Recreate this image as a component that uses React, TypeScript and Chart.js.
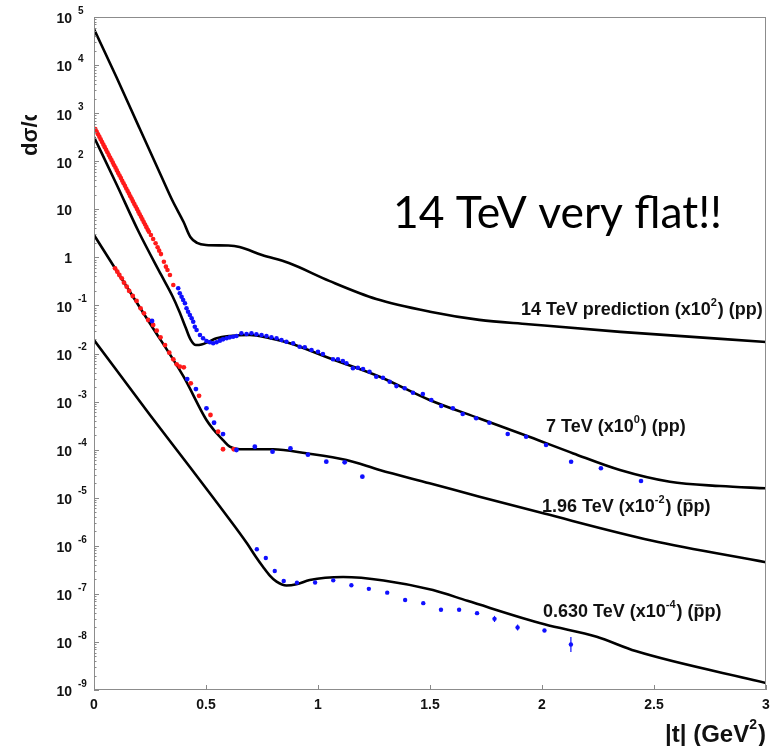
import { useEffect, useRef } from "react";
import { Chart, registerables } from "chart.js";

Chart.register(...registerables);

// ---- model curves: |t| (GeV^2) vs dσ/dt ----
const t14 = [0, 0.1, 0.2, 0.3, 0.35, 0.4, 0.43, 0.46, 0.5, 0.6, 0.65, 0.75, 0.87, 1.05, 1.26, 1.5, 1.72, 1.94, 2.35, 3.0];
const y14 = [5.6e4, 5.65e3, 525, 49.2, 15.2, 5.43, 2.65, 2.0, 1.81, 1.76, 1.64, 1.12, 0.76, 0.324, 0.136, 0.0741, 0.0501, 0.0407, 0.0282, 0.0174];

const t7 = [0, 0.1, 0.2, 0.3, 0.35, 0.38, 0.41, 0.43, 0.455, 0.48, 0.51, 0.547, 0.606, 0.696, 0.785, 0.874, 1.052, 1.275, 1.498, 1.721, 1.946, 2.14, 2.348, 2.571, 2.795, 3.0];
const y7 = [319, 33.6, 3.37, 0.43, 0.157, 0.0766, 0.0339, 0.02, 0.015, 0.0154, 0.0174, 0.0207, 0.0231, 0.0243, 0.0207, 0.0163, 0.00794, 0.00329, 0.00108, 4.45e-4, 1.83e-4, 8.35e-5, 3.77e-5, 2.15e-5, 1.75e-5, 1.57e-5];

const t196 = [0, 0.25, 0.4, 0.502, 0.535, 0.576, 0.606, 0.651, 0.8, 0.948, 1.127, 1.275, 1.498, 1.721, 2.01, 2.488, 3.0];
const y196 = [2.92, 0.0421, 0.00329, 4.13e-4, 2.56e-4, 1.58e-4, 1.15e-4, 1.02e-4, 1.02e-4, 8.39e-5, 6.08e-5, 3.77e-5, 2.0e-5, 1.05e-5, 4.67e-6, 1.29e-6, 4.55e-7];

const t630 = [0, 0.25, 0.428, 0.607, 0.682, 0.723, 0.755, 0.785, 0.815, 0.859, 0.904, 0.963, 1.112, 1.293, 1.513, 1.667, 2.011, 2.244, 2.418, 3.0];
const y630 = [0.0191, 5.25e-4, 4.36e-5, 3.44e-6, 1.14e-6, 5.85e-7, 3.62e-7, 2.4e-7, 1.79e-7, 1.49e-7, 1.58e-7, 1.94e-7, 2.24e-7, 1.9e-7, 1.2e-7, 7.16e-8, 2.32e-8, 1.28e-8, 6.44e-9, 1.4e-9];

// ---- measurements ----
// 7 TeV, small |t| (red)
const d7rT = [0.006, 0.012, 0.018, 0.024, 0.03, 0.036, 0.042, 0.048, 0.054, 0.06, 0.066, 0.072, 0.078, 0.084, 0.09, 0.096, 0.102, 0.108, 0.114, 0.12, 0.126, 0.132, 0.138, 0.144, 0.15, 0.156, 0.162, 0.168, 0.174, 0.18, 0.186, 0.192, 0.198, 0.204, 0.21, 0.216, 0.222, 0.228, 0.234, 0.24, 0.245, 0.254, 0.264, 0.275, 0.284, 0.291, 0.299, 0.312, 0.321, 0.328, 0.339, 0.354];
const d7rY = [465, 411, 363, 321, 284, 251, 221, 196, 173, 153, 135, 119, 105.5, 93.3, 82.4, 72.9, 64.4, 56.9, 50.3, 44.5, 39.3, 34.7, 30.7, 27.1, 24.0, 21.2, 18.7, 16.6, 14.6, 12.9, 11.4, 10.1, 8.93, 7.89, 6.97, 6.16, 5.44, 4.81, 4.25, 3.76, 3.41, 2.92, 2.41, 1.96, 1.62, 1.38, 1.17, 0.813, 0.64, 0.546, 0.43, 0.266];

// 7 TeV, larger |t| (blue)
const d7bT = [0.376, 0.383, 0.391, 0.398, 0.406, 0.413, 0.42, 0.428, 0.436, 0.443, 0.45, 0.458, 0.473, 0.487, 0.502, 0.517, 0.532, 0.547, 0.562, 0.576, 0.592, 0.606, 0.621, 0.636, 0.658, 0.681, 0.703, 0.725, 0.748, 0.77, 0.792, 0.815, 0.837, 0.859, 0.889, 0.918, 0.941, 0.971, 1.0, 1.022, 1.067, 1.089, 1.111, 1.127, 1.156, 1.178, 1.201, 1.23, 1.26, 1.29, 1.32, 1.35, 1.387, 1.424, 1.468, 1.506, 1.55, 1.602, 1.646, 1.706, 1.765, 1.847, 1.929, 2.018, 2.13, 2.263, 2.442];
const d7bY = [0.227, 0.179, 0.152, 0.13, 0.111, 0.0871, 0.074, 0.0632, 0.054, 0.0458, 0.0361, 0.0308, 0.0243, 0.0207, 0.0182, 0.0171, 0.0163, 0.0171, 0.0185, 0.0197, 0.0207, 0.0217, 0.0223, 0.0231, 0.0263, 0.0254, 0.0263, 0.0251, 0.0243, 0.0231, 0.0217, 0.0207, 0.0191, 0.0176, 0.0163, 0.0138, 0.0135, 0.0118, 0.0109, 0.00977, 0.00757, 0.00757, 0.00698, 0.00625, 0.00492, 0.00506, 0.00475, 0.00418, 0.00329, 0.00313, 0.00259, 0.0021, 0.00189, 0.00153, 0.00144, 0.00108, 8.09e-4, 7.24e-4, 5.51e-4, 4.49e-4, 3.63e-4, 2.11e-4, 1.86e-4, 1.25e-4, 5.61e-5, 4.09e-5, 2.22e-5];

// 1.96 TeV (red and blue)
const d196rT = [0.094, 0.104, 0.113, 0.124, 0.134, 0.146, 0.157, 0.173, 0.19, 0.208, 0.223, 0.242, 0.264, 0.28, 0.297, 0.317, 0.336, 0.354, 0.369, 0.383, 0.401, 0.432, 0.469, 0.52, 0.554, 0.576, 0.624];
const d196rY = [0.592, 0.504, 0.43, 0.366, 0.297, 0.245, 0.2, 0.157, 0.124, 0.0871, 0.0686, 0.0498, 0.0392, 0.0298, 0.0217, 0.015, 0.0104, 0.00757, 0.00596, 0.00531, 0.00515, 0.0024, 0.00132, 5.25e-4, 2.36e-4, 1.02e-4, 1.02e-4];
const d196bT = [0.259, 0.416, 0.455, 0.502, 0.536, 0.576, 0.636, 0.718, 0.797, 0.877, 0.955, 1.037, 1.119, 1.198];
const d196bY = [0.0474, 0.00294, 0.00182, 7.24e-4, 3.63e-4, 2.11e-4, 9.82e-5, 1.15e-4, 9.06e-5, 1.06e-4, 7.85e-5, 5.61e-5, 5.44e-5, 2.74e-5];

// 0.630 TeV (blue)
const d630T = [0.727, 0.767, 0.807, 0.847, 0.906, 0.987, 1.068, 1.149, 1.227, 1.309, 1.389, 1.47, 1.549, 1.63, 1.71, 1.788, 1.891, 2.011, 2.129];
const d630Y = [8.49e-7, 5.57e-7, 2.99e-7, 1.85e-7, 1.71e-7, 1.72e-7, 1.91e-7, 1.51e-7, 1.27e-7, 1.06e-7, 7.45e-8, 6.41e-8, 4.68e-8, 4.68e-8, 3.97e-8, 3.02e-8, 2.0e-8, 1.73e-8, 8.83e-9];
const err630T = [1.788, 1.891, 2.129];
const err630Lo = [2.6e-8, 1.73e-8, 6.16e-9];
const err630Hi = [3.48e-8, 2.3e-8, 1.26e-8];

// ---- axes ----
const xTicks = [0, 0.5, 1, 1.5, 2, 2.5, 3];
const xTickLabels = ["0", "0.5", "1", "1.5", "2", "2.5", "3"];
const yDecades = [5, 4, 3, 2, 1, 0, -1, -2, -3, -4, -5, -6, -7, -8, -9];

const curveLabels = [
  { x: 521, y: 315, parts: [["14 TeV prediction (x10", "n"], ["2", "sup"], [") (pp)", "n"]] },
  { x: 546, y: 432, parts: [["7 TeV (x10", "n"], ["0", "sup"], [") (pp)", "n"]] },
  { x: 542, y: 512, parts: [["1.96 TeV (x10", "n"], ["-2", "sup"], [") (", "n"], ["p", "bar"], ["p)", "n"]] },
  { x: 543, y: 617, parts: [["0.630 TeV (x10", "n"], ["-4", "sup"], [") (", "n"], ["p", "bar"], ["p)", "n"]] },
];

const SANS = '"Liberation Sans", Arial, Helvetica, sans-serif';

const zip = (xs: number[], ys: number[]) => xs.map((x, i) => ({ x, y: ys[i] }));

function drawRich(ctx: CanvasRenderingContext2D, x: number, y: number, parts: string[][], size: number) {
  let cx = x;
  for (const [text, kind] of parts) {
    if (kind === "sup") {
      ctx.font = `bold ${Math.round(size * 0.62)}px ${SANS}`;
      ctx.fillText(text, cx, y - size * 0.48);
      cx += ctx.measureText(text).width + 1;
    } else {
      ctx.font = `bold ${size}px ${SANS}`;
      ctx.fillText(text, cx, y);
      const w = ctx.measureText(text).width;
      if (kind === "bar") {
        ctx.save();
        ctx.lineWidth = 1.2;
        ctx.beginPath();
        ctx.moveTo(cx + 2, y - size * 0.66);
        ctx.lineTo(cx + w - 2, y - size * 0.66);
        ctx.stroke();
        ctx.restore();
      }
      cx += w;
    }
  }
}

const overlay = {
  id: "overlay",
  afterDatasetsDraw(chart: any) {
    const { ctx, scales } = chart;
    const xs = scales.x;
    const ys = scales.y;
    ctx.save();
    ctx.strokeStyle = "#1010ff";
    ctx.lineWidth = 1.2;
    err630T.forEach((t, i) => {
      const px = xs.getPixelForValue(t);
      ctx.beginPath();
      ctx.moveTo(px, ys.getPixelForValue(err630Lo[i]));
      ctx.lineTo(px, ys.getPixelForValue(err630Hi[i]));
      ctx.stroke();
    });
    ctx.restore();
  },
  afterDraw(chart: any) {
    const { ctx, chartArea: a, scales } = chart;
    const xs = scales.x;
    const ys = scales.y;
    ctx.save();

    // frame
    ctx.strokeStyle = "#8c8c8c";
    ctx.lineWidth = 1;
    ctx.strokeRect(a.left + 0.5, a.top + 0.5, a.right - a.left - 1, a.bottom - a.top - 1);

    // y ticks (major and minor, inside)
    ctx.strokeStyle = "#888";
    ctx.beginPath();
    for (const e of yDecades) {
      for (let m = 1; m <= 9; m++) {
        const v = m * Math.pow(10, e);
        if (v > 1e5 || v < 1e-9) continue;
        const py = Math.round(ys.getPixelForValue(v)) + 0.5;
        const len = m === 1 ? 5 : 2.5;
        ctx.moveTo(a.left, py);
        ctx.lineTo(a.left + len, py);
      }
    }
    // x ticks
    for (const t of xTicks) {
      const px = Math.round(xs.getPixelForValue(t)) + 0.5;
      ctx.moveTo(px, a.bottom);
      ctx.lineTo(px, a.bottom - 5);
    }
    ctx.stroke();

    ctx.fillStyle = "#111";
    // y tick labels
    for (const e of yDecades) {
      const py = ys.getPixelForValue(Math.pow(10, e));
      ctx.textBaseline = "middle";
      ctx.textAlign = "right";
      ctx.font = `bold 14px ${SANS}`;
      if (e === 1) {
        ctx.fillText("10", 72, py + 2);
      } else if (e === 0) {
        ctx.fillText("1", 72, py + 2);
      } else {
        ctx.fillText("10", 72, py + 2.5);
        ctx.textAlign = "left";
        ctx.font = `bold 10px ${SANS}`;
        ctx.fillText(String(e), 78, py - 6);
      }
    }

    // x tick labels
    ctx.textAlign = "center";
    ctx.textBaseline = "middle";
    ctx.font = `bold 14px ${SANS}`;
    xTicks.forEach((t, i) => {
      ctx.fillText(xTickLabels[i], xs.getPixelForValue(t), 705);
    });

    // x axis title, right aligned to the plot edge
    ctx.textAlign = "left";
    ctx.textBaseline = "alphabetic";
    const big = `bold 24px ${SANS}`;
    const small = `bold 14px ${SANS}`;
    ctx.font = big;
    const p1 = "|t| (GeV";
    const w1 = ctx.measureText(p1).width;
    const w3 = ctx.measureText(")").width;
    ctx.font = small;
    const w2 = ctx.measureText("2").width;
    const tx = a.right - (w1 + w2 + w3 + 1);
    ctx.font = big;
    ctx.fillText(p1, tx, 742);
    ctx.fillText(")", tx + w1 + w2 + 1, 742);
    ctx.font = small;
    ctx.fillText("2", tx + w1, 729);

    // y axis title (top end cut off)
    ctx.save();
    ctx.beginPath();
    ctx.rect(0, 115, 90, 200);
    ctx.clip();
    ctx.translate(37, 156);
    ctx.rotate(-Math.PI / 2);
    ctx.textAlign = "left";
    ctx.font = `bold 22px ${SANS}`;
    ctx.fillText("dσ/dt", 0, 0);
    ctx.restore();

    // curve labels
    ctx.fillStyle = "#111";
    ctx.strokeStyle = "#111";
    ctx.textAlign = "left";
    ctx.textBaseline = "alphabetic";
    for (const lab of curveLabels) {
      drawRich(ctx, lab.x, lab.y, lab.parts as string[][], 18);
    }

    // annotation
    const note = "14 TeV very flat!!";
    ctx.font = `36px Lato, "Open Sans", sans-serif`;
    const nw = ctx.measureText(note).width;
    const size = (36 * 329) / nw;
    ctx.font = `${size.toFixed(1)}px Lato, "Open Sans", sans-serif`;
    ctx.fillStyle = "#000";
    ctx.fillText(note, 393, 228);

    ctx.restore();
  },
};

export default function App() {
  const ref = useRef<HTMLCanvasElement>(null);

  useEffect(() => {
    document.body.style.margin = "0";
    const canvas = ref.current!;
    const curve = (xs: number[], ys: number[]) => ({
      data: zip(xs, ys),
      showLine: true,
      borderColor: "#000",
      borderWidth: 2.6,
      pointRadius: 0,
      cubicInterpolationMode: "monotone" as const,
      fill: false,
    });
    const dots = (xs: number[], ys: number[], color: string, r = 2.3) => ({
      data: zip(xs, ys),
      showLine: false,
      pointRadius: r,
      pointBorderWidth: 0,
      backgroundColor: color,
      borderColor: color,
    });

    const chart = new Chart(canvas, {
      type: "scatter",
      data: {
        datasets: [
          dots(d630T, d630Y, "#1010ff", 2.2),
          dots(d196bT, d196bY, "#1010ff", 2.4),
          dots(d196rT, d196rY, "#ff1a1a", 2.4),
          dots(d7bT, d7bY, "#1010ff", 2.3),
          dots(d7rT, d7rY, "#ff1a1a", 2.3),
          curve(t14, y14),
          curve(t7, y7),
          curve(t196, y196),
          curve(t630, y630),
        ] as any,
      },
      options: {
        responsive: false,
        animation: false,
        events: [],
        layout: { padding: { left: 94, right: 18, top: 17, bottom: 56 } },
        plugins: {
          legend: { display: false },
          tooltip: { enabled: false },
        },
        scales: {
          x: { type: "linear", min: 0, max: 3, display: false },
          y: { type: "logarithmic", min: 1e-9, max: 1e5, display: false },
        },
      },
      plugins: [overlay],
    });
    return () => chart.destroy();
  }, []);

  return <canvas ref={ref} width={784} height={746} style={{ display: "block" }} />;
}
